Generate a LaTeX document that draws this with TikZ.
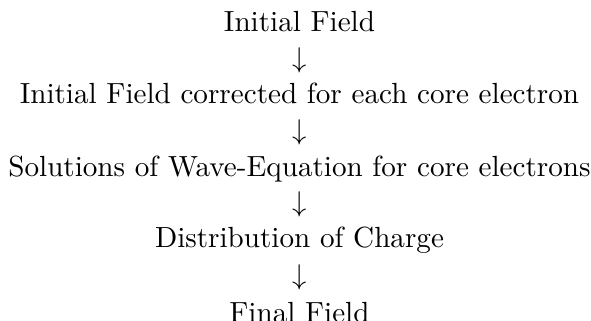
\documentclass[tikz,border=0pt]{standalone}
\begin{document}
\begin{tikzpicture}[x=0.35pt,y=-0.35pt,
  lbl/.style={anchor=base,inner sep=0pt,font=\fontsize{10.2}{12}\selectfont},
  arr/.style={anchor=base,inner sep=0pt,font=\fontsize{10.2}{12}\selectfont}]
\useasboundingbox (0,0) rectangle (591,321);
\node[lbl] (a) at (299.5,32) {Initial Field};
\node[arr] (a1) at (299.5,67.5) {$\downarrow$};
\node[lbl] (b) at (299.5,103.5) {Initial Field corrected for each core electron};
\node[arr] (b1) at (299.5,140) {$\downarrow$};
\node[lbl] (c) at (299.5,177) {Solutions of Wave-Equation for core electrons};
\node[arr] (c1) at (299.5,212) {$\downarrow$};
\node[lbl] (d) at (299.5,248) {Distribution of Charge};
\node[arr] (d1) at (299.5,285) {$\downarrow$};
\node[lbl] (e) at (299.5,322.5) {Final Field};
\end{tikzpicture}
\end{document}
